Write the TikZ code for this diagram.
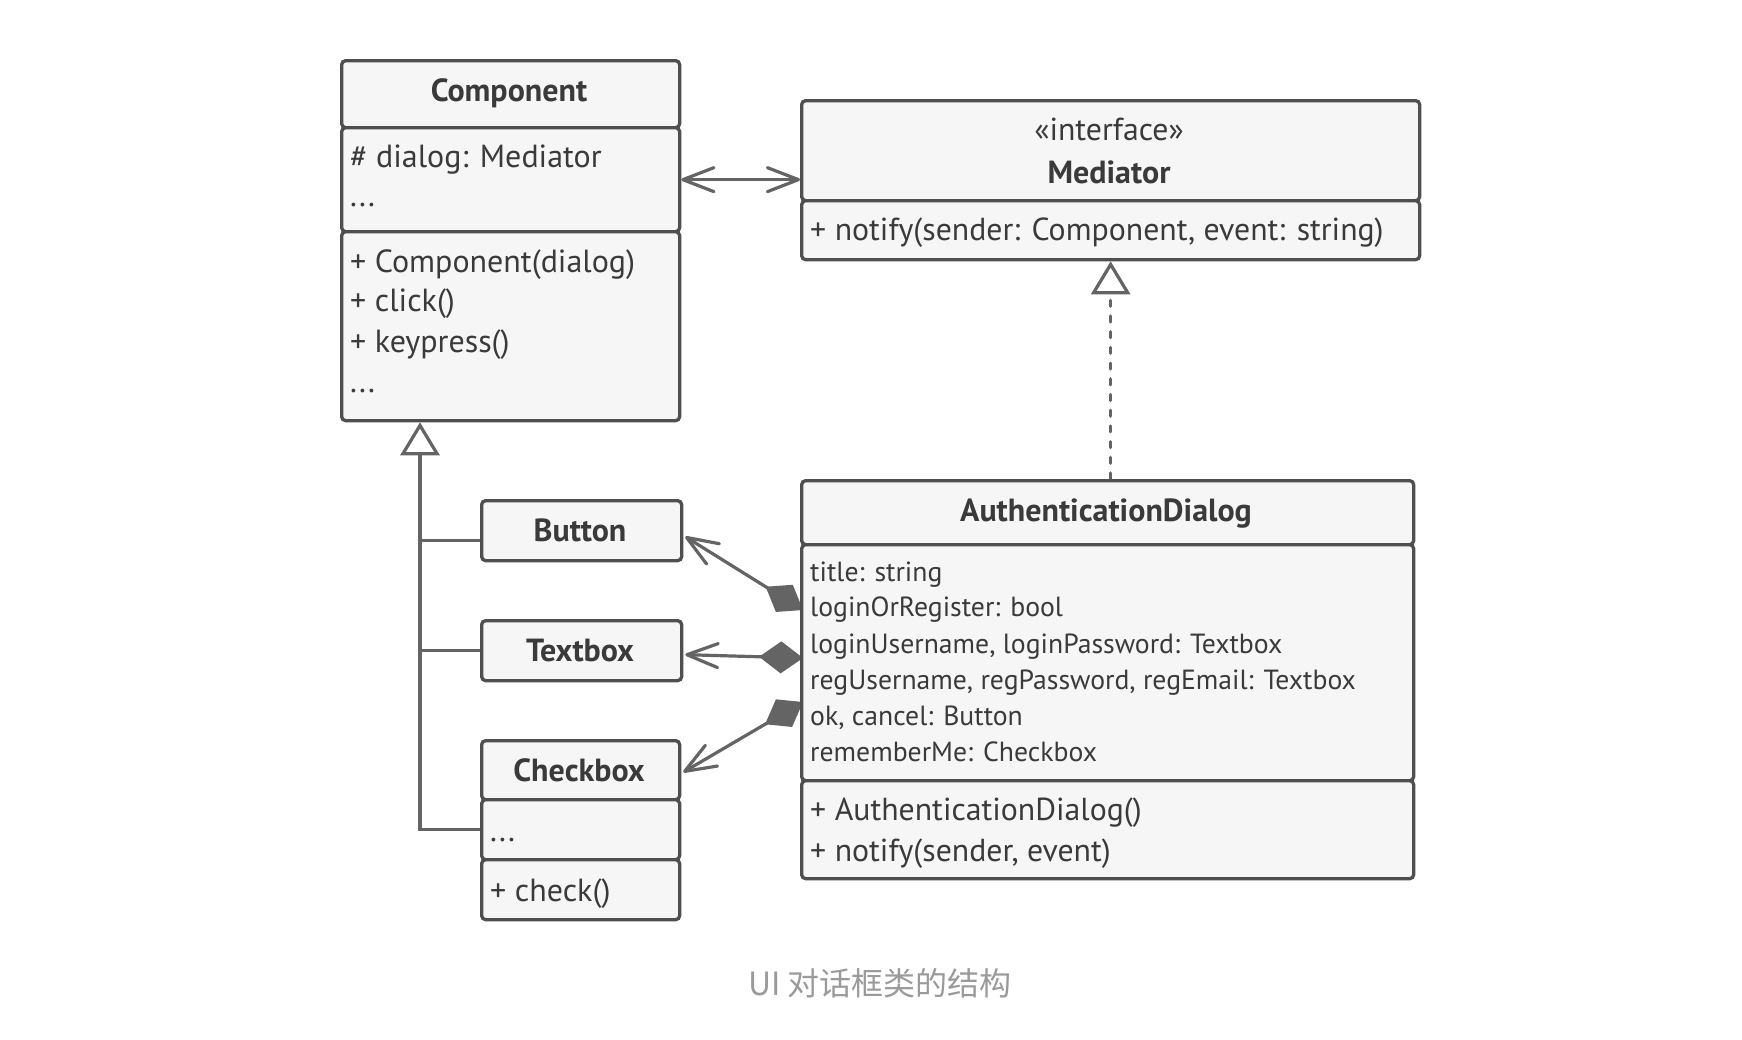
\documentclass[tikz,border=0pt]{standalone}
\usepackage{fontspec}
\setmainfont{PT Sans}
\newfontfamily\cjkfont{Noto Sans CJK SC}
\usetikzlibrary{arrows.meta,calc}
\definecolor{boxline}{HTML}{4F4F4F}
\definecolor{boxfill}{HTML}{F6F6F6}
\definecolor{txtcol}{HTML}{3A3A3A}
\definecolor{conncol}{HTML}{646464}
\definecolor{captcol}{HTML}{9A9A9A}
\pgfdeclarelayer{backdrop}
\pgfdeclarelayer{bg}
\pgfsetlayers{backdrop,bg,main}
\begin{document}
\begin{tikzpicture}[x=1pt,y=-1pt,
  part/.style={draw=boxline, fill=boxfill, line width=3.3pt, rounded corners=4pt,
    inner sep=0pt, anchor=north west},
  tx/.style={text=txtcol, inner sep=0pt, font=\fontsize{32}{38}\selectfont},
  txm/.style={text=txtcol, inner sep=0pt, font=\fontsize{31.8}{38}\selectfont},
  txa/.style={text=txtcol, inner sep=0pt, font=\fontsize{27.7}{33}\selectfont},
  hd/.style={text=txtcol, inner sep=0pt, anchor=base, font=\fontsize{32}{38}\selectfont\bfseries},
  conn/.style={draw=conncol, line width=3.2pt},
  barb/.tip={Straight Barb[length=31pt, width=24pt, round]},
  hollow/.tip={Triangle[open, length=33pt, width=39pt]},
  dia/.tip={Diamond[length=44pt, width=32pt, fill=conncol]},
]
\begin{pgfonlayer}{backdrop}
  \fill[white] (0,0) rectangle (1742,1039);
\end{pgfonlayer}
\useasboundingbox (0,0) rectangle (1742,1039);

% Component
\node[part, minimum width=338pt, minimum height=67pt] (chead) at (340,59) {};
\node[part, minimum width=338pt, minimum height=104pt] (cattr) at (340,126) {};
\node[part, minimum width=338pt, minimum height=189pt] (cmeth) at (340,230) {};
\node[hd] (ctitle) at (509,101.7) {Component};
\node[tx, anchor=base west] (ca1) at (350,167) {\# dialog: Mediator};
\node[tx, anchor=base west] (ca2) at (350,206) {...};
\node[tx, anchor=base west] (cm1) at (350,272) {+ Component(dialog)};
\node[tx, anchor=base west] (cm2) at (350,311) {+ click()};
\node[tx, anchor=base west] (cm3) at (350,352) {+ keypress()};
\node[tx, anchor=base west] (cm4) at (350,392) {...};

% Mediator
\node[part, minimum width=618pt, minimum height=100pt] (mhead) at (800,99) {};
\node[part, minimum width=618pt, minimum height=59pt] (mmeth) at (800,199) {};
\node[txm, anchor=base] (mster) at (1109,140) {«interface»};
\node[hd] (mtitle) at (1109,183) {Mediator};
\node[txm, anchor=base west] (mm1) at (810,240) {+ notify(sender: Component, event: string)};

% AuthenticationDialog
\node[part, minimum width=612pt, minimum height=64pt] (dhead) at (800,479) {};
\node[part, minimum width=612pt, minimum height=236pt] (dattr) at (800,543) {};
\node[part, minimum width=612pt, minimum height=98pt] (dmeth) at (800,779) {};
\node[hd] (dtitle) at (1106,521) {AuthenticationDialog};
\node[txa, anchor=base west] (da1) at (810,581) {title: string};
\node[txa, anchor=base west] (da2) at (810,616) {loginOrRegister: bool};
\node[txa, anchor=base west] (da3) at (810,653) {loginUsername, loginPassword: Textbox};
\node[txa, anchor=base west] (da4) at (810,689) {regUsername, regPassword, regEmail: Textbox};
\node[txa, anchor=base west] (da5) at (810,725) {ok, cancel: Button};
\node[txa, anchor=base west] (da6) at (810,761) {rememberMe: Checkbox};
\node[txm, anchor=base west] (dm1) at (810,820) {+ AuthenticationDialog()};
\node[txm, anchor=base west] (dm2) at (810,861) {+ notify(sender, event)};

% Button, Textbox, Checkbox
\node[part, minimum width=200pt, minimum height=60pt] (btn) at (480,499) {};
\node[hd] (btntitle) at (580,541.5) {Button};
\node[part, minimum width=200pt, minimum height=60pt] (tbx) at (480,619) {};
\node[hd] (tbxtitle) at (580,661) {Textbox};
\node[part, minimum width=198pt, minimum height=59pt] (cbhead) at (480,739) {};
\node[part, minimum width=198pt, minimum height=60pt] (cbattr) at (480,798) {};
\node[part, minimum width=198pt, minimum height=60pt] (cbmeth) at (480,858) {};
\node[hd] (cbtitle) at (579,781) {Checkbox};
\node[tx, anchor=base west] (cba1) at (490,841) {...};
\node[tx, anchor=base west] (cbm1) at (490,901) {+ check()};

% caption
\node[text=captcol, inner sep=0pt, font=\cjkfont\fontsize{32}{38}\selectfont] (caption) at (880,983) {UI 对话框类的结构};

% connectors
\coordinate (ib) at ($(cmeth.south west)+(80,0)$);
\coordinate (bj) at ($(btn.west)+(0,10)$);
\coordinate (d1) at ($(dattr.north west)+(3,67)$);
\coordinate (d2) at ($(dattr.north west)+(3,115)$);
\coordinate (d3) at ($(dattr.north west)+(3,159)$);
\coordinate (b1) at ($(btn.east)+(2,6)$);
\coordinate (b2) at ($(tbx.east)+(2,4)$);
\coordinate (b3) at ($(cbhead.east)+(2,2)$);
\begin{pgfonlayer}{bg}
  \draw[conn, barb-barb] (cattr.east) -- (cattr.east -| mhead.west);
  \draw[conn, dash pattern=on 6pt off 9.7pt, line cap=round, -hollow]
    (dhead.north -| mmeth.south) -- (mmeth.south);
  \draw[conn, -hollow] (cbattr.west) -| (ib);
  \draw[conn] (bj) -- (bj -| ib);
  \draw[conn] (tbx.west) -- (tbx.west -| ib);
  \draw[conn, dia-barb] (d1) -- (b1);
  \draw[conn, dia-barb] (d2) -- (b2);
  \draw[conn, dia-barb] (d3) -- (b3);
\end{pgfonlayer}
\end{tikzpicture}
\end{document}
